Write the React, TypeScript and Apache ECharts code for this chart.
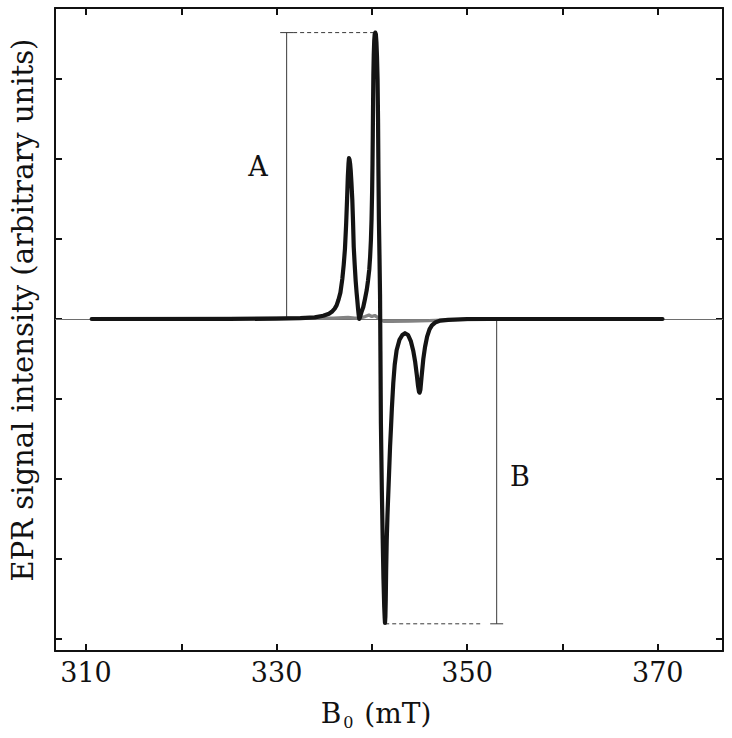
import React, { useEffect, useRef } from "react";
import * as echarts from "echarts";

// Magnetic field (mT) and EPR signal of the sample spectrum (black)
const fieldB = [
  310.6, 315, 320, 325, 330, 332.5, 334, 334.9, 335.5, 335.8, 336.1, 336.3, 336.5, 336.7, 336.9,
  337.05, 337.18, 337.3, 337.4, 337.48, 337.55, 337.6, 337.66, 337.72, 337.78, 337.86, 337.95,
  338.03, 338.1, 338.2, 338.3, 338.4, 338.47, 338.55, 338.62, 338.68, 338.75, 338.85, 338.95,
  339.1, 339.28, 339.46, 339.6, 339.73, 339.82, 339.9, 339.97, 340.03, 340.07, 340.1, 340.13,
  340.16, 340.2, 340.25, 340.3, 340.36, 340.42, 340.48, 340.54, 340.6, 340.65, 340.69, 340.74,
  340.8, 340.86, 340.9, 340.95, 341.05, 341.14, 341.22, 341.3, 341.35, 341.38, 341.42, 341.46,
  341.5, 341.56, 341.64, 341.72, 341.8, 341.91, 342.0, 342.1, 342.25, 342.4, 342.6, 342.9, 343.2,
  343.48, 343.8, 344.1, 344.35, 344.55, 344.72, 344.85, 344.95, 345.02, 345.1, 345.22, 345.4,
  345.58, 345.8, 346.05, 346.3, 346.7, 347.2, 348, 350, 355, 360, 365, 370.5,
];
const signalV = [
  0, 0, 0, 0, 0.005, 0.01, 0.02, 0.04, 0.065, 0.09, 0.13, 0.17, 0.24, 0.33, 0.5,
  0.68, 0.88, 1.18, 1.5, 1.78, 1.94, 2.01, 1.99, 1.94, 1.86, 1.7, 1.49,
  1.2, 0.9, 0.68, 0.48, 0.33, 0.24, 0.13, 0.05, 0.0, 0.02, 0.06, 0.1,
  0.15, 0.25, 0.36, 0.48, 0.62, 0.78, 0.98, 1.25, 1.6, 1.95, 2.3, 2.7,
  3.05, 3.3, 3.48, 3.56, 3.58, 3.56, 3.46, 3.28, 3.0, 2.5, 1.86, 1.25,
  0.8, 0.3, -0.4, -1.3, -2.15, -2.76, -3.25, -3.6, -3.74, -3.8, -3.72, -3.5,
  -3.15, -2.77, -2.45, -2.2, -1.95, -1.6, -1.38, -1.12, -0.8, -0.57, -0.39, -0.26, -0.2,
  -0.178, -0.2, -0.28, -0.4, -0.54, -0.7, -0.84, -0.91, -0.92, -0.88, -0.72, -0.5,
  -0.35, -0.22, -0.13, -0.08, -0.04, -0.02, -0.01, 0, 0, 0, 0, 0,
];

// Control spectrum (grey)
const controlB = [
  310.6, 320, 330, 336, 337.5, 338.2, 338.8, 339.3, 339.7, 340.0, 340.3, 340.6, 340.9, 341.3,
  342, 344, 346, 348, 350, 355, 370.5,
];
const controlV = [
  0.005, 0.008, 0.01, 0.012, 0.02, 0.01, 0.015, 0.03, 0.05, 0.03, 0.045, 0.02, -0.01, -0.03,
  -0.028, -0.025, -0.02, -0.012, -0.006, 0, 0,
];

// Peak-height annotations A and B
const annotLabels = ["A", "B"];
const annotX = [331.06, 353.1];
const annotLevel = [3.58, -3.81];
const annotPeakX = [340.3, 341.4];
const annotDashEndX = [331.74, 351.6];

// Axes
const xMin = 306.75;
const xMax = 376.85;
const yMin = -4.15;
const yMax = 3.8875;
const xTicks = [310, 320, 330, 340, 350, 360, 370];
const xLabels = [310, 330, 350, 370];
const yTicks = [-4, -3, -2, -1, 0, 1, 2, 3];

const CAP_HALF = 0.68;
const FONT = "DejaVu Serif";

export default function App() {
  const ref = useRef<HTMLDivElement>(null);

  useEffect(() => {
    if (!ref.current) return;
    const chart = echarts.init(ref.current, null, { renderer: "svg" });

    const sample = fieldB.map((b, i) => [b, signalV[i]]);
    const control = controlB.map((b, i) => [b, controlV[i]]);

    const annSeries: any[] = [];
    annotX.forEach((x, i) => {
      const lvl = annotLevel[i];
      const thin = { color: "#3a3a3a", width: 1 };
      annSeries.push({
        type: "line",
        data: [
          [x, 0],
          [x, lvl],
        ],
        symbol: "none",
        lineStyle: thin,
        silent: true,
        z: 3,
      });
      annSeries.push({
        type: "line",
        data: [
          [x - CAP_HALF, lvl],
          [x + CAP_HALF, lvl],
        ],
        symbol: "none",
        lineStyle: thin,
        silent: true,
        z: 3,
      });
      annSeries.push({
        type: "line",
        data: [
          [Math.min(annotPeakX[i], annotDashEndX[i]), lvl],
          [Math.max(annotPeakX[i], annotDashEndX[i]), lvl],
        ],
        symbol: "none",
        lineStyle: { color: "#3a3a3a", width: 1, type: [4, 3] },
        silent: true,
        z: 3,
      });
    });

    const baseAxisX = {
      type: "value",
      min: xMin,
      max: xMax,
      splitLine: { show: false },
      axisLine: { show: true, onZero: false, lineStyle: { color: "#111", width: 2 } },
    };
    const baseAxisY = {
      type: "value",
      min: yMin,
      max: yMax,
      splitLine: { show: false },
      axisLine: { show: true, onZero: false, lineStyle: { color: "#111", width: 2 } },
      axisLabel: { show: false },
      axisTick: {
        show: true,
        inside: true,
        length: 7,
        customValues: yTicks,
        lineStyle: { color: "#111", width: 2 },
      },
    };

    chart.setOption({
      animation: false,
      backgroundColor: "#ffffff",
      grid: { left: 55, right: 9, top: 8, bottom: 87, containLabel: false },
      xAxis: [
        {
          ...baseAxisX,
          position: "bottom",
          axisTick: {
            show: true,
            inside: true,
            length: 7,
            customValues: xTicks,
            lineStyle: { color: "#111", width: 2 },
          },
          axisLabel: {
            show: true,
            customValues: xLabels,
            margin: 8,
            color: "#111",
            fontFamily: FONT,
            fontSize: 27,
          },
        },
        {
          ...baseAxisX,
          position: "top",
          axisTick: {
            show: true,
            inside: true,
            length: 7,
            customValues: xTicks,
            lineStyle: { color: "#111", width: 2 },
          },
          axisLabel: { show: false },
        },
      ],
      yAxis: [
        { ...baseAxisY, position: "left" },
        { ...baseAxisY, position: "right" },
      ],
      series: [
        {
          type: "line",
          data: control,
          symbol: "none",
          lineStyle: { color: "#838383", width: 3.3 },
          silent: true,
          z: 2,
          markLine: {
            silent: true,
            symbol: "none",
            label: { show: false },
            lineStyle: { color: "#6e6e6e", width: 1.2, type: "solid" },
            data: [{ yAxis: 0 }],
            z: 1,
          },
        },
        {
          type: "line",
          data: sample,
          symbol: "none",
          lineStyle: { color: "#141414", width: 4.2, join: "round", cap: "round" },
          silent: true,
          z: 4,
        },
        ...annSeries,
      ],
      graphic: [
        {
          type: "text",
          x: 23,
          y: 310,
          rotation: Math.PI / 2,
          style: {
            text: "EPR signal intensity (arbitrary units)",
            font: `29px "${FONT}"`,
            fill: "#111",
            align: "center",
            verticalAlign: "middle",
          },
        },
        {
          type: "text",
          x: 376,
          y: 713,
          style: {
            text: "{b|B}{s|0}{b| (mT)}",
            fill: "#111",
            align: "center",
            verticalAlign: "middle",
            rich: {
              b: { fontFamily: FONT, fontSize: 28, lineHeight: 34, verticalAlign: "middle", fill: "#111" },
              s: { fontFamily: FONT, fontSize: 16, lineHeight: 16, verticalAlign: "bottom", fill: "#111", padding: [0, 2, 0, 2] },
            },
          },
        },
        {
          type: "text",
          x: 258,
          y: 166,
          style: {
            text: annotLabels[0],
            font: `27px "${FONT}"`,
            fill: "#111",
            align: "center",
            verticalAlign: "middle",
          },
        },
        {
          type: "text",
          x: 520,
          y: 476,
          style: {
            text: annotLabels[1],
            font: `27px "${FONT}"`,
            fill: "#111",
            align: "center",
            verticalAlign: "middle",
          },
        },
      ],
    });

    return () => chart.dispose();
  }, []);

  return <div ref={ref} style={{ width: 732, height: 738, position: "absolute", left: 0, top: 0 }} />;
}
